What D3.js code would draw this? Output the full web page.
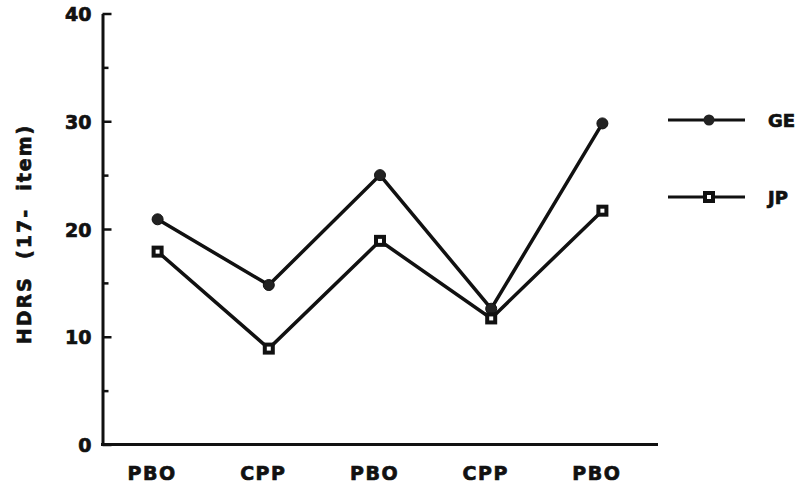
<!DOCTYPE html>
<html>
<head>
<meta charset="utf-8">
<script src="https://cdn.jsdelivr.net/npm/d3@7"></script>
<style>
  html, body { margin: 0; padding: 0; background: #fff; }
  svg { display: block; }
  text { font-family: "DejaVu Sans", "Liberation Sans", sans-serif; font-weight: bold; fill: #111;
         stroke: #111; stroke-width: 0.7px; paint-order: stroke; }
</style>
</head>
<body>
<svg id="chart" width="797" height="489"></svg>
<script>
// ---- data ----
const phases = ["PBO", "CPP", "PBO", "CPP", "PBO"];
const geValues = [20.9, 14.8, 25.0, 12.6, 29.8];
const jpValues = [17.9, 8.9, 18.9, 11.7, 21.7];
const seriesNames = ["GE", "JP"];
const yTicks = [0, 5, 10, 15, 20, 25, 30, 35, 40];
const yTitle = "HDRS  (17-  item)";

const svg = d3.select("#chart");
const ink = "#111";

const x = d3.scalePoint().domain(d3.range(phases.length)).range([102, 658]).padding(0.5);
const y = d3.scaleLinear().domain([0, 40]).range([444.5, 13.5]);
const axisX = 102.5;

// y axis
const yAxis = svg.append("g").attr("transform", `translate(${axisX},0)`)
  .call(d3.axisLeft(y).tickValues(yTicks).tickSizeInner(-9).tickSizeOuter(0).tickPadding(11)
    .tickFormat(d => d % 10 === 0 ? d : ""));
yAxis.select(".domain").attr("stroke", ink).attr("stroke-width", 3);
yAxis.selectAll(".tick line").attr("stroke", ink).attr("stroke-width", 2.5)
  .attr("x2", d => d % 10 === 0 ? 9 : 6);
yAxis.selectAll(".tick text").attr("fill", ink).style("font-size", "19px")
  .attr("dy", "0.38em");

// x axis
const xAxis = svg.append("g").attr("transform", `translate(0,${y(0)})`)
  .call(d3.axisBottom(x).tickSize(0).tickSizeOuter(0).tickPadding(22).tickFormat(i => phases[i]));
xAxis.select(".domain").attr("stroke", ink).attr("stroke-width", 3)
  .attr("d", `M${axisX - 1.5},0H${x.range()[1]}`);
xAxis.selectAll(".tick text").attr("fill", ink).style("font-size", "19px")
  .style("letter-spacing", "1.5px").attr("dx", -6);

// y title
svg.append("text")
  .attr("transform", `translate(31,234) rotate(-90)`)
  .attr("text-anchor", "middle")
  .style("font-size", "19px").style("white-space", "pre").style("letter-spacing", "2px")
  .text(yTitle);

const line = d3.line().x((d, i) => x(i)).y(d => y(d));

// GE
svg.append("path").datum(geValues).attr("d", line)
  .attr("fill", "none").attr("stroke", ink).attr("stroke-width", 3.5);
svg.selectAll(".ge").data(geValues).enter().append("circle")
  .attr("cx", (d, i) => x(i)).attr("cy", d => y(d)).attr("r", 5.5)
  .attr("fill", "#222").attr("stroke", ink).attr("stroke-width", 1);

// JP
svg.append("path").datum(jpValues).attr("d", line)
  .attr("fill", "none").attr("stroke", ink).attr("stroke-width", 3.5);
svg.selectAll(".jp").data(jpValues).enter().append("rect")
  .attr("x", (d, i) => x(i) - 4).attr("y", d => y(d) - 4).attr("width", 8).attr("height", 8)
  .attr("fill", "#fff").attr("stroke", ink).attr("stroke-width", 4);

// legend
const legendY = [120, 197];
seriesNames.forEach((name, k) => {
  const g = svg.append("g").attr("transform", `translate(0,${legendY[k]})`);
  g.append("line").attr("x1", 668).attr("x2", 745).attr("y1", 0).attr("y2", 0)
    .attr("stroke", ink).attr("stroke-width", 3);
  if (k === 0) {
    g.append("circle").attr("cx", 709).attr("cy", 0).attr("r", 5.5).attr("fill", "#222");
  } else {
    g.append("rect").attr("x", 705).attr("y", -4).attr("width", 8).attr("height", 8)
      .attr("fill", "#fff").attr("stroke", ink).attr("stroke-width", 4);
  }
  g.append("text").attr("x", 768).attr("y", 0).attr("dy", "0.37em")
    .style("font-size", "18px").text(name);
});
</script>
</body>
</html>
